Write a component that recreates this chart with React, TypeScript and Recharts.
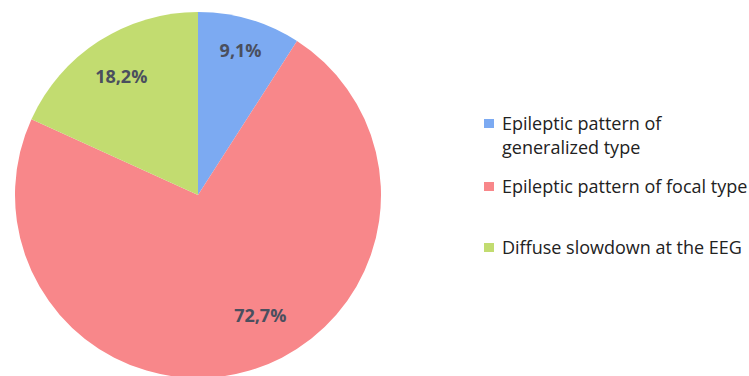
import { Legend, Pie, PieChart } from 'recharts';

const categories = [
  'Epileptic pattern of generalized type',
  'Epileptic pattern of focal type',
  'Diffuse slowdown at the EEG',
];
const shares = [9.1, 72.7, 18.2];
const shareLabels = ['9,1%', '72,7%', '18,2%'];
const colors = ['#7caaf2', '#f8878a', '#c2dc70'];

// legend lines, the first entry wraps in the original
const legendLines = [
  ['Epileptic pattern of', 'generalized type'],
  ['Epileptic pattern of focal type'],
  ['Diffuse slowdown at the EEG'],
];

const data = categories.map((name, i) => ({
  name,
  value: shares[i],
  label: shareLabels[i],
  fill: colors[i],
}));

const RAD = Math.PI / 180;

// Excel-ish label placement: radius ratio and a small angle nudge per slice
const labelRatio = [0.825, 0.74, 0.775];
const labelNudge = [0, 11, 0];

function renderLabel(props: any) {
  const { cx, cy, midAngle, outerRadius, index } = props;
  const r = outerRadius * labelRatio[index];
  const a = (midAngle + labelNudge[index]) * RAD;
  const x = cx + r * Math.cos(-a);
  const y = cy + r * Math.sin(-a);
  return (
    <text
      x={x}
      y={y}
      textAnchor="middle"
      dominantBaseline="central"
      fill="#4a4f5e"
      fontSize={18}
      fontWeight={700}
      fontFamily="'Open Sans', sans-serif"
    >
      {data[index].label}
    </text>
  );
}

function LegendBox(props: any) {
  const { payload } = props;
  const gaps = [0, 15, 37];
  const items = [...(payload ?? [])].sort(
    (a: any, b: any) => categories.indexOf(a.value) - categories.indexOf(b.value),
  );
  return (
    <div style={{ fontFamily: "'Open Sans', sans-serif", fontSize: 18, color: '#222' }}>
      {items.map((entry: any, i: number) => (
        <div key={i} style={{ display: 'flex', marginTop: gaps[i], lineHeight: '24px' }}>
          <span
            style={{
              width: 10,
              height: 9,
              background: entry.color,
              marginTop: 8,
              marginRight: 8,
              flexShrink: 0,
            }}
          />
          <div>
            {legendLines[i].map((line, j) => (
              <div key={j} style={{ whiteSpace: 'nowrap' }}>
                {line}
              </div>
            ))}
          </div>
        </div>
      ))}
    </div>
  );
}

export default function App() {
  return (
    <div style={{ width: 749, height: 376, background: '#fff', overflow: 'hidden' }}>
      <style>{'body{margin:0;}'}</style>
      <PieChart width={749} height={376} margin={{ top: 0, right: 0, bottom: 0, left: 0 }}>
        <Pie
          data={data}
          dataKey="value"
          nameKey="name"
          cx={198}
          cy={195}
          outerRadius={183}
          startAngle={90}
          endAngle={-270}
          stroke="none"
          label={renderLabel}
          labelLine={false}
          isAnimationActive={false}
        />
        <Legend
          layout="vertical"
          content={<LegendBox />}
          wrapperStyle={{ position: 'absolute', left: 484, top: 111, width: 265 }}
        />
      </PieChart>
    </div>
  );
}
